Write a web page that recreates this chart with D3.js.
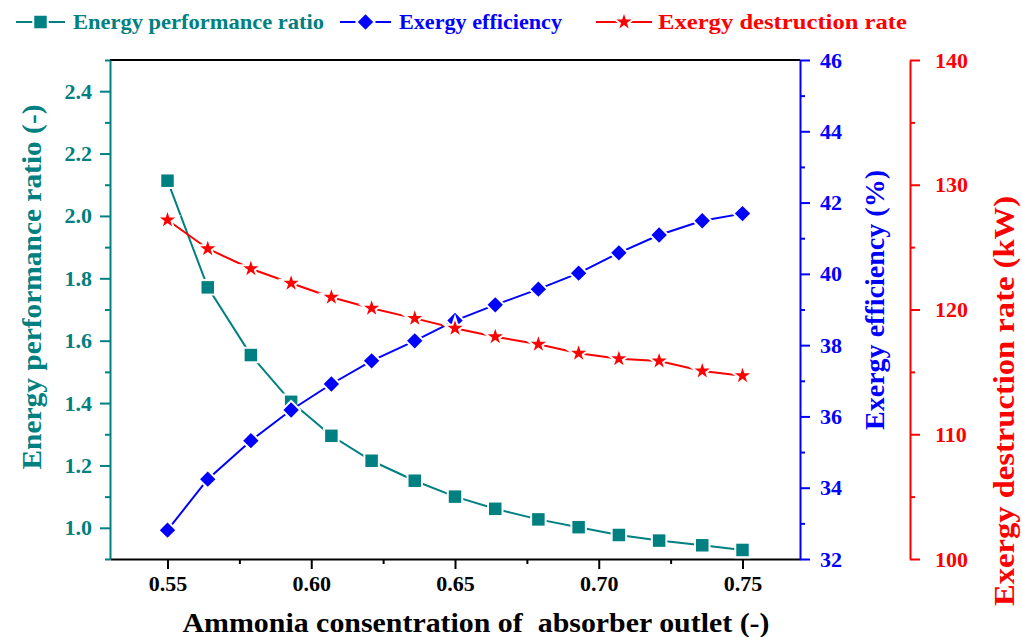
<!DOCTYPE html>
<html>
<head>
<meta charset="utf-8">
<script src="https://cdn.jsdelivr.net/npm/d3@7"></script>
<style>
  body { margin: 0; background: #fff; }
  svg { display: block; }
  text { font-family: "Liberation Serif", "Times New Roman", serif; font-weight: bold; }
</style>
</head>
<body>
<div id="chart"></div>
<script>
// ---- data ----
const concentration = [0.55, 0.564, 0.579, 0.593, 0.607, 0.621, 0.636, 0.65, 0.664, 0.679, 0.693, 0.707, 0.721, 0.736, 0.75];
const energyPerformance = [2.113, 1.771, 1.554, 1.404, 1.295, 1.215, 1.151, 1.100, 1.061, 1.027, 1.002, 0.977, 0.959, 0.944, 0.929];
const exergyEfficiency = [32.81, 34.24, 35.32, 36.18, 36.91, 37.56, 38.12, 38.69, 39.13, 39.57, 40.02, 40.59, 41.09, 41.49, 41.69];
const destructionRate = [127.17, 124.87, 123.27, 122.10, 120.98, 120.10, 119.29, 118.49, 117.82, 117.21, 116.49, 116.06, 115.87, 115.07, 114.69];

const xTicks = [0.55, 0.60, 0.65, 0.70, 0.75];
const xMinor = [0.575, 0.625, 0.675, 0.725];
const leftTicks = [1.0, 1.2, 1.4, 1.6, 1.8, 2.0, 2.2, 2.4];
const leftMinor = [0.9, 1.1, 1.3, 1.5, 1.7, 1.9, 2.1, 2.3, 2.5];
const blueTicks = [32, 34, 36, 38, 40, 42, 44, 46];
const blueMinor = [33, 35, 37, 39, 41, 43, 45];
const redTicks = [100, 110, 120, 130, 140];
const redMinor = [105, 115, 125, 135];

const legendLabels = ['Energy performance ratio', 'Exergy efficiency', 'Exergy destruction rate'];

// ---- layout ----
const width = 1022, height = 637;
const plot = { left: 110, right: 800, top: 60, bottom: 559 };
const redAxisX = 910;
const TEAL = '#008080', BLUE = '#0000ff', RED = '#ff0000';
const tickFont = 22;

const svg = d3.select('#chart').append('svg')
  .attr('width', width).attr('height', height);

const x = d3.scaleLinear().domain([0.53, 0.77]).range([plot.left, plot.right]);
const yL = d3.scaleLinear().domain([0.9, 2.5]).range([plot.bottom, plot.top]);
const yB = d3.scaleLinear().domain([32, 46]).range([plot.bottom, plot.top]);
const yR = d3.scaleLinear().domain([100, 140]).range([plot.bottom, plot.top]);

// style an axis group: colour, line width, font
function styleAxis(g, color) {
  g.selectAll('path, line').attr('stroke', color).attr('stroke-width', 2);
  g.selectAll('text').attr('fill', color).attr('font-size', tickFont);
}

// top frame line
svg.append('line')
  .attr('x1', plot.left).attr('x2', plot.right)
  .attr('y1', plot.top).attr('y2', plot.top)
  .attr('stroke', '#000').attr('stroke-width', 2);

// bottom axis
svg.append('g')
  .attr('transform', `translate(0,${plot.bottom})`)
  .call(d3.axisBottom(x).tickValues(xTicks).tickFormat(d3.format('.2f')).tickSize(10).tickSizeOuter(0).tickPadding(6))
  .call(g => styleAxis(g, '#000'));
svg.append('g')
  .attr('transform', `translate(0,${plot.bottom})`)
  .call(d3.axisBottom(x).tickValues(xMinor).tickFormat('').tickSize(5).tickSizeOuter(0))
  .call(g => g.select('.domain').remove())
  .call(g => styleAxis(g, '#000'));

// left axis
svg.append('g')
  .attr('transform', `translate(${plot.left},0)`)
  .call(d3.axisLeft(yL).tickValues(leftTicks).tickFormat(d3.format('.1f')).tickSize(10).tickSizeOuter(0).tickPadding(8))
  .call(g => styleAxis(g, TEAL));
svg.append('g')
  .attr('transform', `translate(${plot.left},0)`)
  .call(d3.axisLeft(yL).tickValues(leftMinor).tickFormat('').tickSize(5).tickSizeOuter(0))
  .call(g => g.select('.domain').remove())
  .call(g => styleAxis(g, TEAL));

// blue right axis
svg.append('g')
  .attr('transform', `translate(${plot.right},0)`)
  .call(d3.axisRight(yB).tickValues(blueTicks).tickSize(10).tickSizeOuter(0).tickPadding(10))
  .call(g => styleAxis(g, BLUE));
svg.append('g')
  .attr('transform', `translate(${plot.right},0)`)
  .call(d3.axisRight(yB).tickValues(blueMinor).tickFormat('').tickSize(5).tickSizeOuter(0))
  .call(g => g.select('.domain').remove())
  .call(g => styleAxis(g, BLUE));

// red offset axis
svg.append('g')
  .attr('transform', `translate(${redAxisX},0)`)
  .call(d3.axisRight(yR).tickValues(redTicks).tickSize(10).tickSizeOuter(0).tickPadding(15))
  .call(g => styleAxis(g, RED));
svg.append('g')
  .attr('transform', `translate(${redAxisX},0)`)
  .call(d3.axisRight(yR).tickValues(redMinor).tickFormat('').tickSize(5).tickSizeOuter(0))
  .call(g => g.select('.domain').remove())
  .call(g => styleAxis(g, RED));

// axis titles
svg.append('text')
  .attr('x', 476).attr('y', 632)
  .attr('text-anchor', 'middle').attr('font-size', 28).attr('fill', '#000')
  .attr('textLength', 587).attr('lengthAdjust', 'spacingAndGlyphs')
  .style('white-space', 'pre')
  .text('Ammonia consentration of  absorber outlet (-)');

svg.append('text')
  .attr('transform', 'translate(41,287) rotate(-90)')
  .attr('text-anchor', 'middle').attr('font-size', 28).attr('fill', TEAL)
  .attr('textLength', 365).attr('lengthAdjust', 'spacingAndGlyphs')
  .text('Energy performance ratio (-)');

svg.append('text')
  .attr('transform', 'translate(884,300) rotate(-90)')
  .attr('text-anchor', 'middle').attr('font-size', 28).attr('fill', BLUE)
  .attr('textLength', 260).attr('lengthAdjust', 'spacingAndGlyphs')
  .text('Exergy efficiency (%)');

svg.append('text')
  .attr('transform', 'translate(1014,401) rotate(-90)')
  .attr('text-anchor', 'middle').attr('font-size', 29).attr('fill', RED)
  .attr('textLength', 410).attr('lengthAdjust', 'spacingAndGlyphs')
  .text('Exergy destruction rate (kW)');

// ---- series ----
const squareSym = d3.symbol().type(d3.symbolSquare).size(156);
const diamondSym = d3.symbol().type(d3.symbolSquare).size(118);
const starSym = d3.symbol().type(d3.symbolStar).size(72);

const series = [
  { values: energyPerformance, y: yL, color: TEAL, sym: squareSym, rot: 0 },
  { values: exergyEfficiency, y: yB, color: BLUE, sym: diamondSym, rot: 45 },
  { values: destructionRate, y: yR, color: RED, sym: starSym, rot: 0 }
];

series.forEach(s => {
  const pts = concentration.map((c, i) => [c, s.values[i]]);
  const g = svg.append('g');
  g.append('path')
    .datum(pts)
    .attr('fill', 'none')
    .attr('stroke', s.color)
    .attr('stroke-width', 2)
    .attr('d', d3.line().x(d => x(d[0])).y(d => s.y(d[1])));
  g.selectAll('path.m')
    .data(pts)
    .join('path')
    .attr('class', 'm')
    .attr('transform', d => `translate(${x(d[0])},${s.y(d[1])}) rotate(${s.rot})`)
    .attr('d', s.sym())
    .attr('fill', s.color)
    .attr('stroke', '#fff')
    .attr('stroke-width', 4)
    .attr('paint-order', 'stroke');
});

// ---- legend ----
const legendItems = [
  { x0: 16, x1: 65, tx: 73, len: 251, color: TEAL, sym: squareSym, rot: 0 },
  { x0: 340, x1: 391, tx: 399, len: 163, color: BLUE, sym: diamondSym, rot: 45 },
  { x0: 596, x1: 652, tx: 658, len: 249, color: RED, sym: starSym, rot: 0 }
];
const ly = 22;
legendItems.forEach((it, i) => {
  const g = svg.append('g');
  g.append('line')
    .attr('x1', it.x0).attr('x2', it.x1).attr('y1', ly).attr('y2', ly)
    .attr('stroke', it.color).attr('stroke-width', 2);
  g.append('path')
    .attr('transform', `translate(${(it.x0 + it.x1) / 2},${ly}) rotate(${it.rot})`)
    .attr('d', it.sym())
    .attr('fill', it.color)
    .attr('stroke', '#fff').attr('stroke-width', 4).attr('paint-order', 'stroke');
  g.append('text')
    .attr('x', it.tx).attr('y', ly + 7)
    .attr('font-size', 22).attr('fill', it.color)
    .attr('textLength', it.len).attr('lengthAdjust', 'spacingAndGlyphs')
    .text(legendLabels[i]);
});
</script>
</body>
</html>
